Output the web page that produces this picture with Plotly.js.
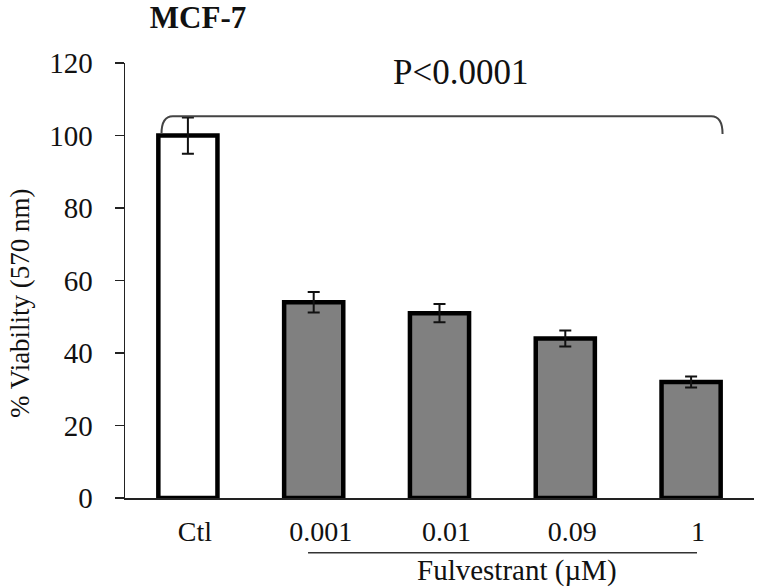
<!DOCTYPE html>
<html>
<head>
<meta charset="utf-8">
<script src="https://cdn.plot.ly/plotly-3.0.1.min.js"></script>
<style>html,body{margin:0;padding:0;background:#fff;}#chart{width:757px;height:588px;}</style>
</head>
<body>
<div id="chart"></div>
<script>
// Data
const categories = ["Ctl", "0.001", "0.01", "0.09", "1"];
const viability = [100, 54, 51, 44, 32];
const errors = [5, 2.8, 2.5, 2.2, 1.5];
const barColors = ["#ffffff", "#808080", "#808080", "#808080", "#808080"];
const chartTitle = "MCF-7";
const yTitle = "% Viability (570 nm)";
const groupLabel = "Fulvestrant (\u00b5M)";
const pLabel = "P<0.0001";

const FONT = "Liberation Serif, Times New Roman, serif";

const trace = {
  type: "bar",
  x: categories,
  y: viability,
  width: 0.47,
  marker: { color: barColors, line: { color: "#000", width: 4.5 } },
  error_y: { type: "data", array: errors, visible: true, color: "#111", thickness: 2, width: 6 },
  hoverinfo: "x+y"
};

const layout = {
  width: 757,
  height: 588,
  margin: { l: 125, r: 3, t: 63, b: 90 },
  paper_bgcolor: "#fff",
  plot_bgcolor: "#fff",
  showlegend: false,
  font: { family: FONT, color: "#111" },
  title: {
    text: "<b>" + chartTitle + "</b>",
    font: { family: FONT, size: 31, color: "#111" },
    x: 198 / 757, xanchor: "center", xref: "container",
    y: 1 - 17 / 588, yanchor: "middle", yref: "container"
  },
  xaxis: {
    type: "category",
    range: [-0.5, 4.5],
    showline: true, linecolor: "#222", linewidth: 1.5,
    ticks: "", showgrid: false, zeroline: false,
    tickfont: { family: FONT, size: 28, color: "#111" },
    ticklabelshift: 7,
    ticklabelstandoff: 8
  },
  yaxis: {
    range: [0, 120],
    tickvals: [0, 20, 40, 60, 80, 100, 120],
    showline: true, linecolor: "#222", linewidth: 1.5,
    ticks: "outside", ticklen: 9, tickwidth: 1.5, tickcolor: "#222",
    showgrid: false, zeroline: false,
    tickfont: { family: FONT, size: 29, color: "#111" },
    ticklabelstandoff: 16
  },
  shapes: [
    {
      type: "path", xref: "x", yref: "y",
      path: "M -0.21,100.4 Q -0.21,105.3 -0.12,105.3 L 4.16,105.3 Q 4.25,105.3 4.25,100.4",
      line: { color: "#444", width: 2 }
    },
    {
      type: "line", xref: "x", yref: "paper",
      x0: 0.955, x1: 4.047, y0: -0.126, y1: -0.126,
      line: { color: "#333", width: 1.5 }
    }
  ],
  annotations: [
    {
      text: pLabel, xref: "x", yref: "y", x: 2.163, y: 117.4,
      showarrow: false, xanchor: "center", yanchor: "middle",
      font: { family: FONT, size: 35, color: "#111" }
    },
    {
      text: groupLabel, xref: "x", yref: "paper", x: 2.616, y: -0.166,
      showarrow: false, xanchor: "center", yanchor: "middle",
      font: { family: FONT, size: 29, color: "#111" }
    },
    {
      text: yTitle, xref: "paper", yref: "paper",
      x: (20 - 125) / 629, y: (498 - 303) / 435,
      textangle: -90, showarrow: false, xanchor: "center", yanchor: "middle",
      font: { family: FONT, size: 27, color: "#111" }
    }
  ]
};

Plotly.newPlot("chart", [trace], layout, { displayModeBar: false, staticPlot: true });
</script>
</body>
</html>
